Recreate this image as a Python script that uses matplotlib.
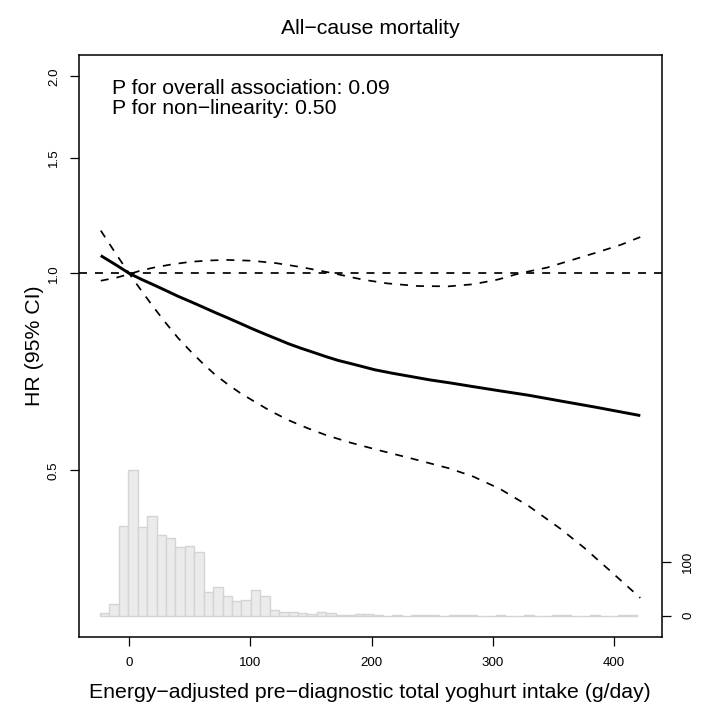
import matplotlib
matplotlib.use("Agg")
import matplotlib.pyplot as plt
import numpy as np

plt.rcParams['font.family'] = ['Liberation Sans', 'DejaVu Sans']

# ---- data ----
hr_x = [-23.3, -10.1, 0, 10.1, 20.3, 30.4, 40.5, 50.7, 60.8, 70.9, 81.1, 91.2,
        101.3, 111.5, 121.6, 131.7, 141.8, 152, 162.1, 172.2, 182.4, 192.5, 202.6,
        217.8, 233, 248.2, 264.4, 283.7, 306, 329.3, 355.6, 385, 421.5]
hr = [1.064, 1.028, 1.0, 0.979, 0.960, 0.941, 0.922, 0.905, 0.888, 0.871, 0.855,
      0.839, 0.823, 0.808, 0.794, 0.780, 0.768, 0.757, 0.746, 0.736, 0.728, 0.720,
      0.712, 0.703, 0.695, 0.687, 0.680, 0.671, 0.661, 0.651, 0.638, 0.624, 0.606]

ciA_x = [-23.3, -10.1, 0, 10.1, 20.3, 30.4, 40.5, 50.7, 60.8, 70.9, 81.1, 91.2,
         101.3, 116.5, 131.7, 146.9, 162.1, 182.4, 206.7, 233, 264.4, 283.7, 306,
         329.3, 355.6, 374.9, 395.1, 421.5]
ciA = [1.162, 1.066, 1.0, 0.941, 0.887, 0.839, 0.796, 0.760, 0.728, 0.700, 0.677,
       0.657, 0.640, 0.616, 0.596, 0.580, 0.566, 0.551, 0.536, 0.521, 0.503, 0.489,
       0.468, 0.441, 0.407, 0.381, 0.353, 0.319]

ciB_x = [-23.3, -10.1, 0, 10.1, 20.3, 35.5, 50.7, 65.9, 81.1, 101.3, 121.6, 141.8,
         168.2, 192.5, 212.8, 238.1, 263.4, 283.7, 304, 322.2, 344.5, 361.7, 385,
         405.3, 421.5]
ciB = [0.974, 0.985, 0.997, 1.01, 1.02, 1.032, 1.041, 1.046, 1.048, 1.045, 1.036,
       1.022, 1.0, 0.978, 0.965, 0.956, 0.955, 0.962, 0.978, 1.0, 1.02, 1.043,
       1.075, 1.105, 1.136]

hist_start = -23.9
hist_width = 7.77
hist_counts = [5, 22, 168, 271, 165, 185, 151, 145, 128, 130, 119, 45, 53, 37, 27,
               30, 47, 37, 11, 7, 7, 5, 4, 6, 5, 2, 1, 3, 3, 1, 0, 1, 0, 1, 2, 2,
               0, 1, 2, 1, 0, 0, 1, 0, 0, 1, 0, 0, 2, 1, 0, 0, 1, 0, 0, 1, 2]

y_ticks = [0.5, 1.0, 1.5, 2.0]
y_ticklabels = ["0.5", "1.0", "1.5", "2.0"]
x_ticks = [0, 100, 200, 300, 400]
hist_ticks = [0, 100]

title = "All\u2212cause mortality"
xlabel = "Energy\u2212adjusted pre\u2212diagnostic total yoghurt intake (g/day)"
ylabel = "HR (95% CI)"
ptext1 = "P for overall association: 0.09"
ptext2 = "P for non\u2212linearity: 0.50"

# ---- figure ----
W, H = 707, 705
fig = plt.figure(figsize=(W / 100, H / 100), dpi=100)
L, R, T, B = 78.7, 661.5, 54.7, 637.3
pos = [L / W, 1 - B / H, (R - L) / W, (B - T) / H]

axh = fig.add_axes(pos)
ax = fig.add_axes(pos)
ax.patch.set_visible(False)

xlim = (-41.5, 439.0)
tick_fs = 9.6
text_fs = 15.3

# histogram
n = len(hist_counts)
lefts = hist_start + hist_width * np.arange(n)
axh.bar(lefts, hist_counts, width=hist_width, align='edge', color='#ebebeb',
        edgecolor='#d4d4d4', linewidth=1.0)
axh.set_xlim(*xlim)
axh.set_ylim(-40.3, 1045.4)
axh.yaxis.tick_right()
axh.set_yticks(hist_ticks)
axh.set_yticklabels([str(t) for t in hist_ticks], rotation=90, va='center',
                    fontsize=tick_fs)
axh.tick_params(axis='y', direction='out', length=6.5, width=0.9, pad=8.5)
axh.set_xticks([])
for s in axh.spines.values():
    s.set_visible(False)

# lines
dash = (0, (4.6, 4.6))
ax.axhline(1.0, color='black', lw=1.25, linestyle=dash)
ax.plot(ciA_x, ciA, color='black', lw=1.25, linestyle=dash)
ax.plot(ciB_x, ciB, color='black', lw=1.25, linestyle=dash)
ax.plot(hr_x, hr, color='black', lw=2.1, solid_capstyle='butt')

ax.set_yscale('log')
ax.set_ylim(0.2777, 2.158)
ax.set_xlim(*xlim)
ax.minorticks_off()
ax.set_yticks(y_ticks)
ax.set_yticklabels(y_ticklabels, rotation=90, va='center', fontsize=tick_fs)
ax.yaxis.set_minor_locator(matplotlib.ticker.NullLocator())
ax.set_xticks(x_ticks)
ax.set_xticklabels([str(t) for t in x_ticks], fontsize=tick_fs)
ax.tick_params(direction='out', length=6.5, width=0.9)
ax.tick_params(axis='y', pad=7.0)
ax.tick_params(axis='x', pad=8)
for s in ax.spines.values():
    s.set_linewidth(1.1)

fig.text(370 / W, 1 - 28 / H, title, ha='center', va='center', fontsize=text_fs)
fig.text(370 / W, 1 - 698 / H, xlabel, ha='center', va='baseline', fontsize=text_fs)
fig.text(35 / W, 1 - 346 / H, ylabel, ha='center', va='center', rotation=90,
         fontsize=text_fs)
fig.text(112 / W, 1 - 93.5 / H, ptext1, ha='left', va='baseline', fontsize=text_fs)
fig.text(112 / W, 1 - 114 / H, ptext2, ha='left', va='baseline', fontsize=text_fs)

fig.savefig("out.png", dpi=100)
